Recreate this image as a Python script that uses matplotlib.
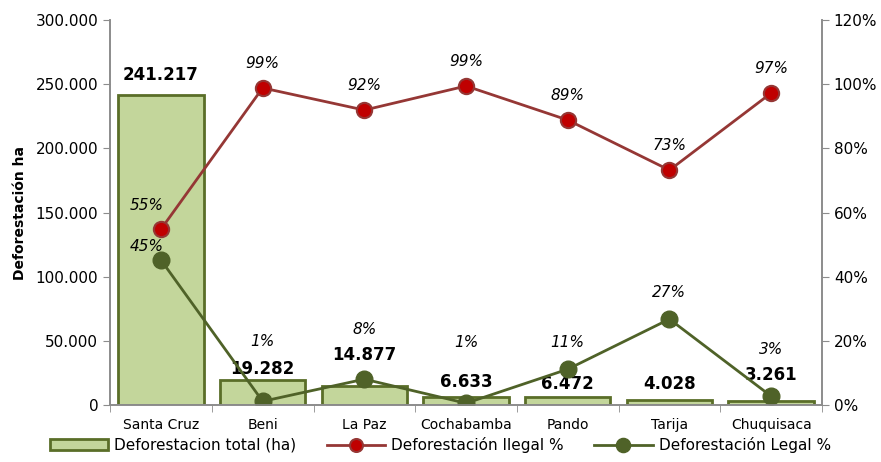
import matplotlib.pyplot as plt
from matplotlib.ticker import FuncFormatter, FixedLocator
import numpy as np

plt.rcParams['font.family'] = ['DejaVu Sans']

categories = ["Santa Cruz", "Beni", "La Paz", "Cochabamba", "Pando", "Tarija", "Chuquisaca"]
total_ha = [241217, 19282, 14877, 6633, 6472, 4028, 3261]
ilegal = [0.548, 0.988, 0.919, 0.994, 0.888, 0.732, 0.972]
legal = [0.452, 0.012, 0.081, 0.006, 0.112, 0.268, 0.028]

# label offsets (points) as placed in the original
bar_lab_dy = [8, 2, 16, 4, 3, 5, 12]
ile_lab_dx = [-10, 0, 0, 0, 0, 0, 0]
leg_lab_dx = [-10, 0, 0, 0, 0, 0, 0]
leg_lab_dy = [4, 38, 30, 38, 14, 14, 28]

gray = "#8c8c8c"
bar_face = "#c3d69b"
bar_edge = "#5a6e28"
red_line = "#953735"
red_face = "#c00000"
green_line = "#4f6228"

fig = plt.figure(figsize=(8.81, 4.62), dpi=100)
ax = fig.add_axes([0.125, 0.123, 0.808, 0.834])
ax2 = ax.twinx()

x = np.arange(len(categories))
ax.bar(x, total_ha, width=0.84, color=bar_face, edgecolor=bar_edge, linewidth=2,
       label="Deforestacion total (ha)")
ax.set_ylim(0, 300000)
ax.set_xlim(-0.5, len(categories) - 0.5)
ax.yaxis.set_major_locator(FixedLocator(range(0, 300001, 50000)))
ax.yaxis.set_major_formatter(FuncFormatter(lambda v, p: "0" if v == 0 else f"{int(v):,}".replace(",", ".")))
ax.set_xticks(x)
ax.set_xticklabels(categories)
ax.set_xticks(np.arange(-0.5, len(categories), 1.0), minor=True)
ax.tick_params(axis='x', which='major', length=0, pad=9, labelsize=10)
ax.tick_params(axis='x', which='minor', length=5, color=gray)
ax.tick_params(axis='y', length=5, color=gray, labelsize=11)
ax.set_ylabel("Deforestación ha", fontsize=10, fontweight='bold', labelpad=6)

for xi, v, dy in zip(x, total_ha, bar_lab_dy):
    ax.annotate(f"{v:,}".replace(",", "."), (xi, v), xytext=(0, dy), textcoords="offset points",
                ha='center', va='bottom', fontsize=12, fontweight='bold')

ax2.plot(x, ilegal, color=red_line, linewidth=2, marker='o', markersize=11,
         markerfacecolor=red_face, markeredgecolor=red_line, markeredgewidth=1.5,
         label="Deforestación Ilegal %")
ax2.plot(x, legal, color=green_line, linewidth=2, marker='o', markersize=12,
         markerfacecolor=green_line, markeredgecolor=green_line,
         label="Deforestación Legal %")
ax2.set_ylim(0, 1.2)
ax2.yaxis.set_major_locator(FixedLocator(np.arange(0, 1.21, 0.2)))
ax2.yaxis.set_major_formatter(FuncFormatter(lambda v, p: f"{v * 100:.0f}%"))
ax2.tick_params(axis='y', length=5, color=gray, labelsize=11)

for xi, v, dx in zip(x, ilegal, ile_lab_dx):
    ax2.annotate(f"{v * 100:.0f}%", (xi, v), xytext=(dx, 12), textcoords="offset points",
                 ha='center', va='bottom', fontsize=11, fontstyle='italic')
for xi, v, dx, dy in zip(x, legal, leg_lab_dx, leg_lab_dy):
    ax2.annotate(f"{v * 100:.0f}%", (xi, v), xytext=(dx, dy), textcoords="offset points",
                 ha='center', va='bottom', fontsize=11, fontstyle='italic')

for a in (ax, ax2):
    a.spines['top'].set_visible(False)
    for s in ('left', 'right', 'bottom'):
        a.spines[s].set_color(gray)
        a.spines[s].set_linewidth(1.2)

h1, l1 = ax.get_legend_handles_labels()
h2, l2 = ax2.get_legend_handles_labels()
fig.legend(h1 + h2, l1 + l2, loc='lower center', bbox_to_anchor=(0.5, -0.01), ncol=3,
           frameon=False, fontsize=11, handlelength=3.8, columnspacing=2.0, handletextpad=0.4,
           markerscale=0.85)

fig.savefig("out.png", dpi=100)
